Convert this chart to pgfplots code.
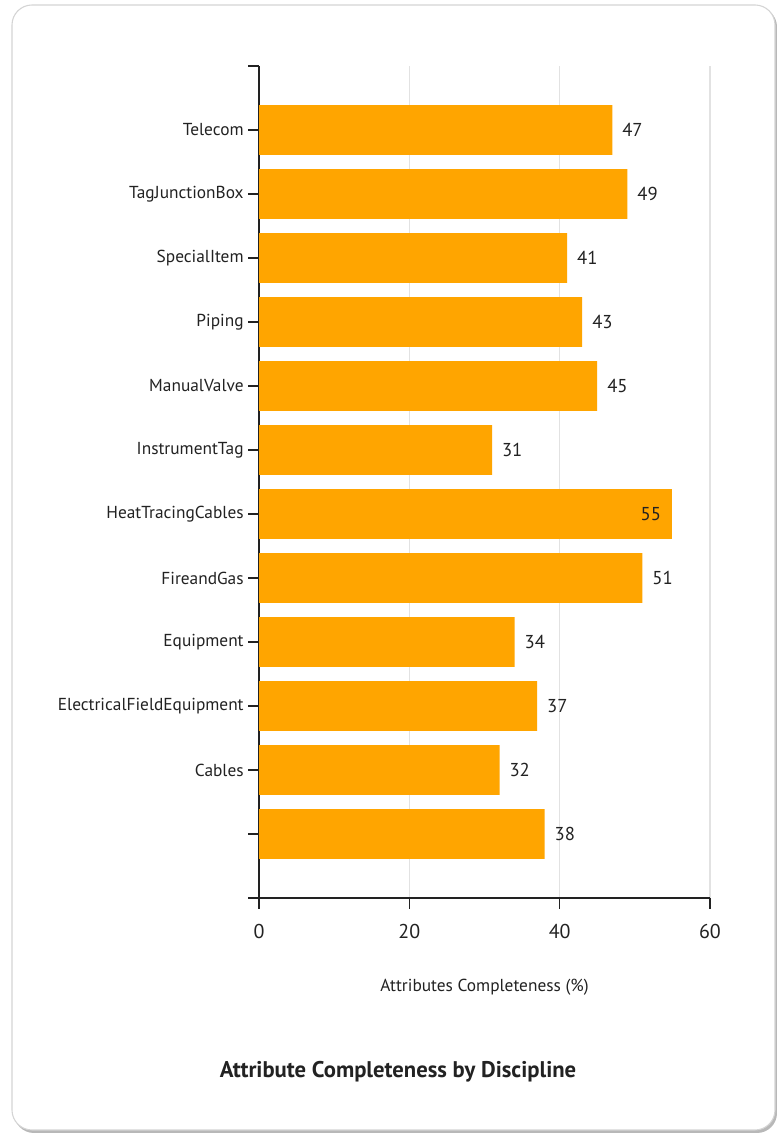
\documentclass[border=0pt]{standalone}
\usepackage{pgfplots}
\pgfplotsset{compat=1.18}
\usepackage{fontspec}
\setmainfont{PT Sans}
\definecolor{barorange}{HTML}{FFA500}
\definecolor{txt}{HTML}{222222}
\definecolor{gridc}{HTML}{E2E2E2}
\definecolor{framec}{HTML}{D4D4D4}
\definecolor{shadowc}{HTML}{B8B8B8}

\pgfplotstableread{
pos val
0 38
1 32
2 37
3 34
4 51
6 31
7 45
8 43
9 41
10 49
11 47
}\mainbars
\pgfplotstableread{
pos val
5 55
}\insidebars

\begin{document}
\begin{tikzpicture}
% page and frame
\fill[white] (0pt,0pt) rectangle (582.75pt,851.25pt);
\fill[shadowc, rounded corners=15pt] (10.5pt,1.5pt) rectangle (582.75pt,846pt);
\fill[white, draw=framec, line width=0.8pt, rounded corners=15pt] (9pt,3.75pt) rectangle (581.25pt,847.5pt);

\begin{axis}[
  at={(194.25pt,177.75pt)}, anchor=south west,
  scale only axis, width=338.25pt, height=624pt,
  /pgf/number format/assume math mode=true,
  xbar, bar width=0.78, bar shift=0pt,
  xmin=0, xmax=60, ymin=-1, ymax=12,
  xtick={0,20,40,60},
  ytick={0,...,11},
  yticklabels={{},Cables,ElectricalFieldEquipment,Equipment,FireandGas,HeatTracingCables,InstrumentTag,ManualValve,Piping,SpecialItem,TagJunctionBox,Telecom},
  extra y ticks={-1,12}, extra y tick labels={},
  axis lines*=left, axis line style={txt, line width=1.1pt, -},
  tick align=outside, major tick length=8pt,
  tick style={txt, line width=1pt},
  xmajorgrids, ymajorgrids=false,
  major grid style={gridc, line width=0.8pt},
  extra y tick style={grid=none},
  yticklabel style={font=\fontsize{13}{15}\selectfont, text=txt},
  xticklabel style={font=\fontsize{15}{17}\selectfont, text=txt, yshift=-8pt},
  xlabel={Attributes Completeness (\%)},
  xlabel style={at={(axis description cs:0.5,0)}, anchor=center, yshift=-66.75pt, font=\fontsize{13}{15}\selectfont, text=txt},
  clip=false,
]
\addplot[fill=barorange, draw=none,
  nodes near coords, nodes near coords style={font=\fontsize{14}{16}\selectfont, text=txt, anchor=west, xshift=4pt}]
  table[x=val, y=pos] {\mainbars};
\addplot[fill=barorange, draw=none,
  nodes near coords, nodes near coords style={font=\fontsize{14}{16}\selectfont, text=txt, anchor=east, xshift=-5pt}]
  table[x=val, y=pos] {\insidebars};
\end{axis}

\node[font=\bfseries\fontsize{17}{19}\selectfont, text=txt] at (298.5pt,47.25pt) {Attribute Completeness by Discipline};
\end{tikzpicture}
\end{document}
